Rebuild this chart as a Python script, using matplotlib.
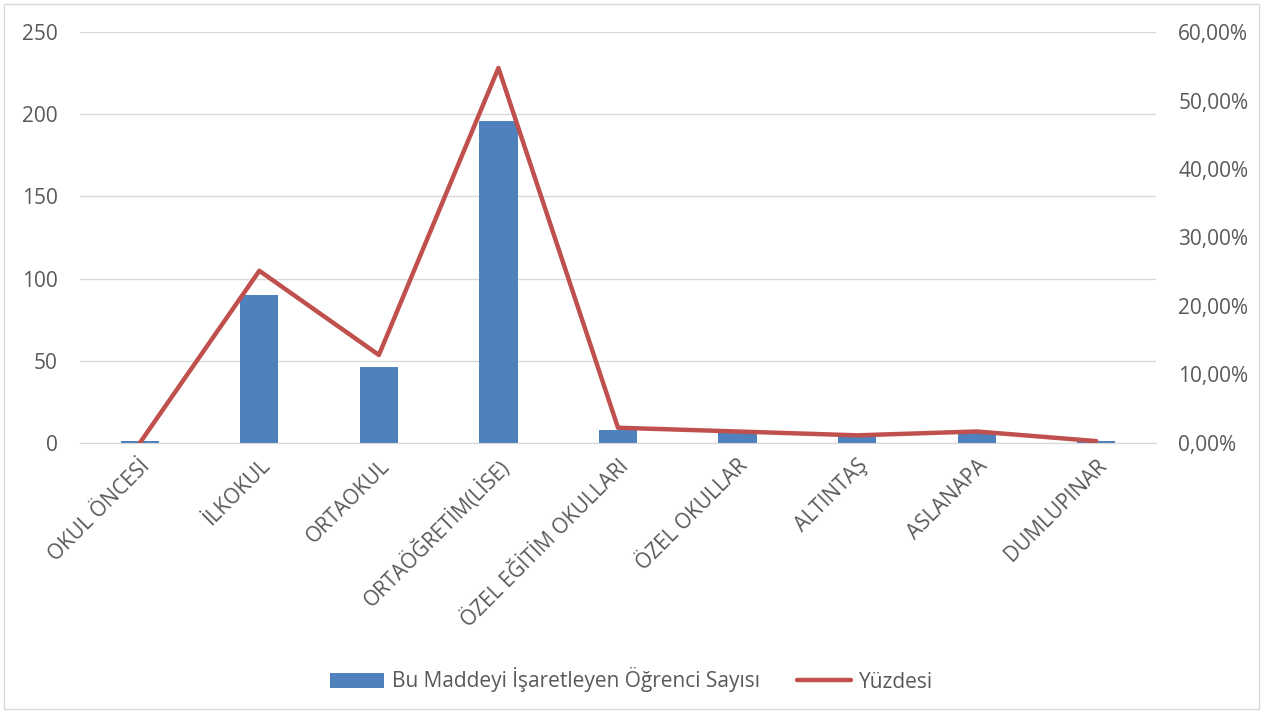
import matplotlib.pyplot as plt
from matplotlib.ticker import FuncFormatter
from matplotlib.patches import Rectangle
import numpy as np

categories = ["OKUL ÖNCESİ", "İLKOKUL", "ORTAOKUL", "ORTAÖĞRETİM(LİSE)",
              "ÖZEL EĞİTİM OKULLARI", "ÖZEL OKULLAR", "ALTINTAŞ", "ASLANAPA",
              "DUMLUPINAR"]
counts = [1, 90, 46, 196, 8, 6, 4, 6, 1]
percents = [0.0, 25.14, 12.85, 54.75, 2.23, 1.68, 1.12, 1.68, 0.28]

bar_color = "#4f81bd"
line_color = "#c0504d"
text_color = "#595959"
grid_color = "#d9d9d9"
fs = 15

plt.rcParams['font.family'] = ['Open Sans', 'DejaVu Sans']

fig = plt.figure(figsize=(12.63, 7.13), dpi=100)
ax = fig.add_axes([80 / 1263, 1 - 443 / 713, (1156 - 80) / 1263, (443 - 32) / 713])
ax2 = ax.twinx()

x = np.arange(len(categories))
ax.bar(x, counts, width=0.32, color=bar_color, zorder=2,
       label="Bu Maddeyi İşaretleyen Öğrenci Sayısı")
ax2.plot(x, percents, color=line_color, linewidth=3.2, solid_capstyle='round',
         label="Yüzdesi")

ax.set_xlim(-0.5, len(categories) - 0.5)
ax.set_ylim(0, 250)
ax.set_yticks(range(0, 251, 50))
ax2.set_ylim(0, 60)
ax2.set_yticks(range(0, 61, 10))
ax2.yaxis.set_major_formatter(FuncFormatter(lambda v, p: f"{v:.2f}%".replace(".", ",")))

ax.grid(axis='y', color=grid_color, linewidth=1, zorder=0)
ax.set_axisbelow(True)
for a in (ax, ax2):
    for s in a.spines.values():
        s.set_visible(False)
    a.tick_params(length=0, colors=text_color, labelsize=fs)
ax.spines['bottom'].set_visible(True)
ax.spines['bottom'].set_color(grid_color)
ax.tick_params(axis='y', pad=16)
ax2.tick_params(axis='y', pad=16)

ax.set_xticks(x)
ax.set_xticklabels(categories, rotation=45, ha='right', rotation_mode='anchor')
ax.tick_params(axis='x', pad=9)

handles = [ax.containers[0], ax2.get_lines()[0]]
fig.legend(handles, [h.get_label() for h in handles], loc='center',
           bbox_to_anchor=(0.5, 1 - 680 / 713), ncol=2, frameon=False,
           fontsize=fs, labelcolor=text_color, columnspacing=1.8,
           handlelength=2.6, handletextpad=0.35)

fig.patches.append(Rectangle((4 / 1263, 1 - 709 / 713), 1255 / 1263, 705 / 713,
                             transform=fig.transFigure, fill=False,
                             edgecolor=grid_color, linewidth=1))

fig.savefig("out.png", dpi=100)
